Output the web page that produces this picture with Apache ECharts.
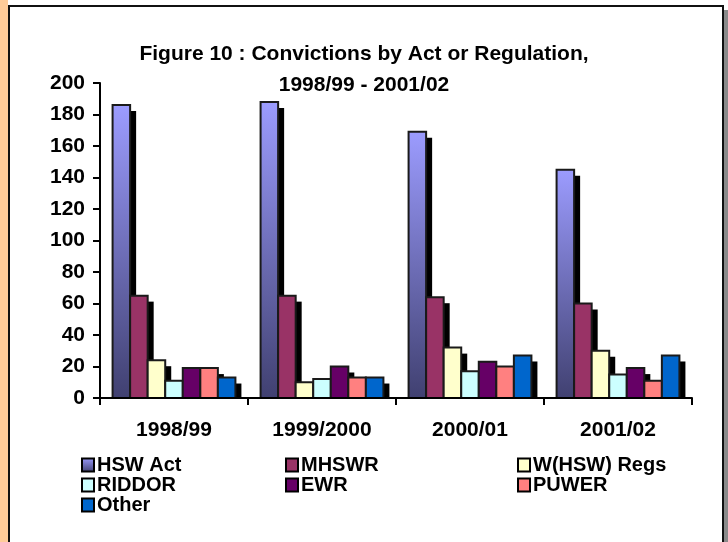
<!DOCTYPE html>
<html>
<head>
<meta charset="utf-8">
<script src="https://cdn.jsdelivr.net/npm/echarts@6/dist/echarts.min.js"></script>
<style>
html,body{margin:0;padding:0;background:#fff;}
#c{width:728px;height:542px;}
</style>
</head>
<body>
<div id="c"></div>
<script>
const categories = ['1998/99', '1999/2000', '2000/01', '2001/02'];
const seriesNames = ['HSW Act', 'MHSWR', 'W(HSW) Regs', 'RIDDOR', 'EWR', 'PUWER', 'Other'];
const hswAct = [186, 188, 169, 145];
const mhswr = [65, 65, 64, 60];
const whswRegs = [24, 10, 32, 30];
const riddor = [11, 12, 17, 15];
const ewr = [19, 20, 23, 19];
const puwer = [19, 13, 20, 11];
const other = [13, 13, 27, 27];
const yTicks = [0, 20, 40, 60, 80, 100, 120, 140, 160, 180, 200];
const titleText = 'Figure 10 : Convictions by Act or Regulation,\n1998/99 - 2001/02';

const values = [hswAct, mhswr, whswRegs, riddor, ewr, puwer, other];
const hswGrad = new echarts.graphic.LinearGradient(0, 0, 0, 1, [
  {offset: 0, color: '#9c9cff'}, {offset: 1, color: '#404070'}
]);
const colors = [hswGrad, '#993366', '#FFFFCC', '#CCFFFF', '#660066', '#FF8080', '#0066CC'];
const FONT = '"Liberation Sans", Arial, sans-serif';
const CAT_GAP = 0.17;
const DEPTH = 6;
const N = seriesNames.length;

const chart = echarts.init(document.getElementById('c'), null, {renderer:'canvas'});

function renderBar(params, api) {
  const si = params.seriesIndex;
  const ci = api.value(0);
  const v = api.value(1);
  const top = api.coord([ci, v]);
  const base = api.coord([ci, 0]);
  const band = api.size([1, 0])[0];
  const groupW = band * (1 - CAT_GAP);
  const bw = groupW / N;
  const x = top[0] - groupW / 2 + si * bw;
  const h = base[1] - top[1];
  const children = [];
  if (h > DEPTH) {
    children.push({
      type: 'rect',
      shape: {x: x + bw - 0.5, y: top[1] + DEPTH, width: DEPTH + 0.5, height: h - DEPTH},
      style: {fill: '#000'}
    });
  }
  children.push({
    type: 'rect',
    shape: {x: x, y: top[1], width: bw, height: h},
    style: {fill: colors[si], stroke: '#1a1a1a', lineWidth: 2}
  });
  return {type: 'group', children: children};
}

const series = seriesNames.map((n, i) => ({
  name: n,
  type: 'custom',
  renderItem: renderBar,
  data: values[i].map((v, ci) => [ci, v]),
  encode: {x: 0, y: 1},
  z: 2,
  itemStyle: {color: colors[i], borderColor: '#000', borderWidth: 1.5},
  emphasis: {disabled: true}
}));

function legendCfg(left, names) {
  return {
    orient: 'vertical',
    left: left, top: 455,
    data: names,
    itemWidth: 12, itemHeight: 13,
    itemGap: 0,
    icon: 'rect',
    padding: 0,
    textStyle: {fontFamily: FONT, fontWeight: 'bold', fontSize: 20, color: '#000', lineHeight: 19, padding: [0,0,0,-2]},
    itemStyle: {borderColor: '#000', borderWidth: 2},
    selectedMode: false
  };
}

chart.setOption({
  animation: false,
  backgroundColor: '#fff',
  title: {
    text: titleText,
    left: 'center', top: 34,
    textStyle: {fontFamily: FONT, fontWeight: 'bold', fontSize: 21, color: '#000', lineHeight: 31}
  },
  grid: {left: 100, right: 36, top: 83, bottom: 144},
  xAxis: {
    type: 'category',
    data: categories,
    z: 20,
    axisLine: {lineStyle: {color: '#000', width: 2}},
    axisTick: {show: true, length: 7, lineStyle: {color: '#000', width: 2}},
    axisLabel: {margin: 22, fontFamily: FONT, fontWeight: 'bold', fontSize: 21, color: '#000'}
  },
  yAxis: {
    type: 'value',
    min: yTicks[0], max: yTicks[yTicks.length - 1], interval: yTicks[1] - yTicks[0],
    z: 20,
    splitLine: {show: false},
    axisLine: {show: true, lineStyle: {color: '#000', width: 2}},
    axisTick: {show: true, length: 7, lineStyle: {color: '#000', width: 2}},
    axisLabel: {margin: 15, fontFamily: FONT, fontWeight: 'bold', fontSize: 21, color: '#000'}
  },
  legend: [
    legendCfg(81, ['HSW Act', 'RIDDOR', 'Other']),
    legendCfg(285, ['MHSWR', 'EWR']),
    legendCfg(517, ['W(HSW) Regs', 'PUWER'])
  ],
  graphic: [
    {type:'rect', z: 0, silent: true, shape:{x:0, y:0, width:8, height:542}, style:{fill:'#FFCC99'}},
    {type:'line', z: 30, silent: true, shape:{x1:9, y1:6, x2:724, y2:6}, style:{stroke:'#111', lineWidth:2}},
    {type:'line', z: 30, silent: true, shape:{x1:9, y1:5, x2:9, y2:542}, style:{stroke:'#111', lineWidth:2}},
    {type:'line', z: 30, silent: true, shape:{x1:723, y1:5, x2:723, y2:542}, style:{stroke:'#111', lineWidth:2}},
    {type:'rect', z: 30, silent: true, shape:{x:724, y:10, width:4, height:532}, style:{fill:'#8a8a8a'}}
  ],
  series: series
});
</script>
</body>
</html>
